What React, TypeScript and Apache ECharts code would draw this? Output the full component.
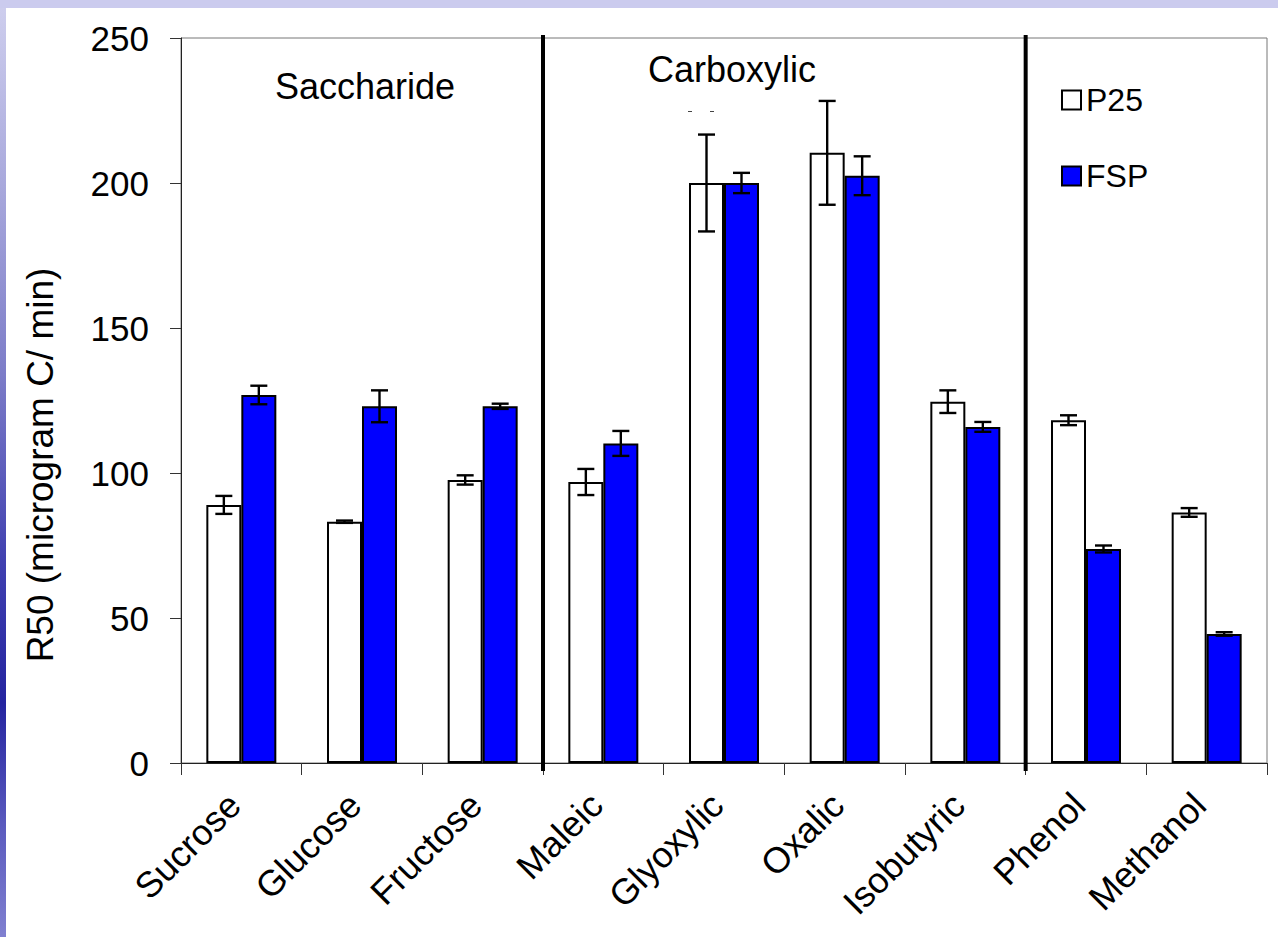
import React, { useEffect, useRef } from "react";
import * as echarts from "echarts";

const categories = ["Sucrose", "Glucose", "Fructose", "Maleic", "Glyoxylic", "Oxalic", "Isobutyric", "Phenol", "Methanol"];
const p25Values = [89, 83.2, 97.6, 96.9, 200, 210.4, 124.6, 118.2, 86.4];
const p25Errors = [3.1, 0.4, 1.6, 4.5, 16.7, 17.9, 3.9, 1.7, 1.5];
const fspValues = [126.9, 123, 123, 110.2, 200, 202.5, 115.9, 73.8, 44.5];
const fspErrors = [3.2, 5.5, 0.9, 4.3, 3.5, 6.7, 1.7, 1.2, 0.6];
const groupLabels = ["Saccharide", "Carboxylic"];
const separatorsAfter = [2, 6];
const yTicks = { min: 0, max: 250, interval: 50 };

const FONT = "'Liberation Sans', Arial, sans-serif";
const BAR_FRAC = 0.29;

function errorSeries(name: string, values: number[], errs: number[], sign: number) {
  return {
    type: "custom",
    name: name + " err",
    z: 5,
    data: values.map((v, i) => [i, v, errs[i]]),
    encode: { x: 0, y: 1 },
    renderItem: (params: any, api: any) => {
      const idx = api.value(0);
      const v = api.value(1);
      const e = api.value(2);
      const band = api.size([1, 0])[0];
      const off = sign * band * BAR_FRAC / 2;
      const hi = api.coord([idx, v + e]);
      const lo = api.coord([idx, v - e]);
      const x = hi[0] + off;
      const cw = 8.5;
      const st = { stroke: "#000", lineWidth: 2.4 };
      return {
        type: "group",
        children: [
          { type: "line", shape: { x1: x, y1: hi[1], x2: x, y2: lo[1] }, style: st },
          { type: "line", shape: { x1: x - cw, y1: hi[1], x2: x + cw, y2: hi[1] }, style: st },
          { type: "line", shape: { x1: x - cw, y1: lo[1], x2: x + cw, y2: lo[1] }, style: st },
        ],
      };
    },
  };
}

export default function App() {
  const ref = useRef<HTMLDivElement>(null);
  useEffect(() => {
    if (!ref.current) return;
    const chart = echarts.init(ref.current, null, { renderer: "svg" });
    chart.setOption({
      animation: false,
      backgroundColor: "transparent",
      textStyle: { fontFamily: FONT },
      grid: { left: 181, top: 38, width: 1086, height: 725, show: true, borderColor: "#777", borderWidth: 1, backgroundColor: "transparent" },
      legend: {
        data: ["P25", "FSP"],
        orient: "vertical",
        left: 1056,
        top: 79,
        itemWidth: 19,
        itemHeight: 19,
        itemGap: 44,
        icon: "rect",
        textStyle: { fontSize: 32, color: "#000", fontFamily: FONT },
      },
      xAxis: {
        type: "category",
        data: categories,
        axisLine: { lineStyle: { color: "#222", width: 1 } },
        axisTick: { show: true, length: 12, lineStyle: { color: "#333" } },
        axisLabel: { rotate: 45, fontSize: 36, color: "#000", margin: 29, padding: [0, 10, 0, 0], fontFamily: FONT },
      },
      yAxis: {
        type: "value",
        min: yTicks.min,
        max: yTicks.max,
        interval: yTicks.interval,
        splitLine: { show: false },
        axisLine: { show: true, lineStyle: { color: "#222", width: 1 } },
        axisTick: { show: true, length: 11, lineStyle: { color: "#333" } },
        axisLabel: { fontSize: 35, color: "#000", margin: 32, fontFamily: FONT },
      },
      series: [
        {
          type: "bar",
          name: "P25",
          data: p25Values,
          barWidth: BAR_FRAC * 100 + "%",
          barGap: "0%",
          itemStyle: { color: "#ffffff", borderColor: "#000", borderWidth: 2 },
        },
        {
          type: "bar",
          name: "FSP",
          data: fspValues,
          barWidth: BAR_FRAC * 100 + "%",
          barGap: "0%",
          itemStyle: { color: "#0000ff", borderColor: "#000", borderWidth: 2 },
        },
        errorSeries("P25", p25Values, p25Errors, -1),
        errorSeries("FSP", fspValues, fspErrors, 1),
      ],
    });

    const seps = separatorsAfter.map((i) => {
      const a = chart.convertToPixel({ xAxisIndex: 0 }, i) as number;
      const b = chart.convertToPixel({ xAxisIndex: 0 }, i + 1) as number;
      const x = (a + b) / 2;
      const top = chart.convertToPixel({ yAxisIndex: 0 }, yTicks.max) as number;
      const bottom = chart.convertToPixel({ yAxisIndex: 0 }, yTicks.min) as number;
      return {
        type: "line",
        z: 10,
        shape: { x1: x, y1: top - 3, x2: x, y2: bottom + 8 },
        style: { stroke: "#000", lineWidth: 4 },
      };
    });

    chart.setOption({
      graphic: [
        ...seps,
        { type: "text", x: 275, y: 86, style: { text: groupLabels[0], font: `36px ${FONT}`, fill: "#000", verticalAlign: "middle", align: "left" } },
        { type: "text", x: 648, y: 69, style: { text: groupLabels[1], font: `36px ${FONT}`, fill: "#000", verticalAlign: "middle", align: "left" } },
        { type: "rect", shape: { x: 688, y: 111, width: 4, height: 1 }, style: { fill: "#444" } },
        { type: "rect", shape: { x: 710, y: 111, width: 4, height: 1 }, style: { fill: "#444" } },
        {
          type: "text",
          x: 40,
          y: 465,
          rotation: Math.PI / 2,
          style: { text: "R50 (microgram C/ min)", font: `37px ${FONT}`, fill: "#000", align: "center", verticalAlign: "middle" },
        },
      ],
    });
    return () => chart.dispose();
  }, []);

  return (
    <div
      style={{
        position: "absolute",
        left: 0,
        top: 0,
        width: 1278,
        height: 937,
        background:
          "linear-gradient(#fff,#fff) 6px 8px / 1272px 929px no-repeat, linear-gradient(#cbcbee,#cbcbee) 0 0 / 100% 8px no-repeat, linear-gradient(to bottom, #cfcfee 0%, #a8a8dc 20%, #7c7cc8 40%, #4040b0 60%, #2424a0 75%, #5a5abe 88%, #8080d0 100%)",
      }}
    >
      <div ref={ref} style={{ position: "absolute", left: 0, top: 0, width: 1278, height: 937 }} />
    </div>
  );
}
